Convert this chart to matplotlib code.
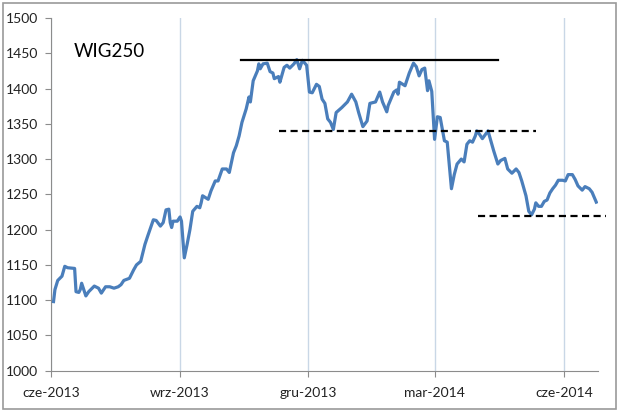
import matplotlib
matplotlib.use("Agg")
import matplotlib.pyplot as plt
from matplotlib.patches import Rectangle
import numpy as np

plt.rcParams['font.family'] = ['Lato', 'DejaVu Sans']

# WIG250 index
dates = [
    "2013-06-03", "2013-06-04", "2013-06-06", "2013-06-09", "2013-06-11", "2013-06-13",
    "2013-06-18", "2013-06-19", "2013-06-21", "2013-06-22", "2013-06-23", "2013-06-26",
    "2013-06-28", "2013-06-30", "2013-07-02", "2013-07-05", "2013-07-07", "2013-07-10",
    "2013-07-13", "2013-07-16", "2013-07-19", "2013-07-21", "2013-07-23", "2013-07-27",
    "2013-07-30", "2013-08-01", "2013-08-04", "2013-08-07", "2013-08-09", "2013-08-13",
    "2013-08-15", "2013-08-18", "2013-08-20", "2013-08-22", "2013-08-24", "2013-08-25",
    "2013-08-26", "2013-08-27", "2013-08-30", "2013-09-01", "2013-09-02", "2013-09-04",
    "2013-09-06", "2013-09-08", "2013-09-10", "2013-09-13", "2013-09-15", "2013-09-16",
    "2013-09-17", "2013-09-21", "2013-09-23", "2013-09-26", "2013-09-28", "2013-10-01",
    "2013-10-04", "2013-10-06", "2013-10-09", "2013-10-11", "2013-10-13", "2013-10-15",
    "2013-10-18", "2013-10-20", "2013-10-21", "2013-10-23", "2013-10-26", "2013-10-27",
    "2013-10-28", "2013-10-30", "2013-11-02", "2013-11-04", "2013-11-06", "2013-11-07",
    "2013-11-10", "2013-11-11", "2013-11-14", "2013-11-16", "2013-11-18", "2013-11-21",
    "2013-11-23", "2013-11-25", "2013-11-27", "2013-11-30", "2013-12-02", "2013-12-04",
    "2013-12-07", "2013-12-09", "2013-12-11", "2013-12-13", "2013-12-15", "2013-12-17",
    "2013-12-19", "2013-12-21", "2013-12-25", "2013-12-29", "2014-01-01", "2014-01-04",
    "2014-01-06", "2014-01-09", "2014-01-12", "2014-01-14", "2014-01-18", "2014-01-21",
    "2014-01-23", "2014-01-26", "2014-01-27", "2014-01-31", "2014-02-02", "2014-02-03",
    "2014-02-04", "2014-02-08", "2014-02-11", "2014-02-14", "2014-02-16", "2014-02-18",
    "2014-02-20", "2014-02-22", "2014-02-24", "2014-02-25", "2014-02-27", "2014-03-01",
    "2014-03-03", "2014-03-05", "2014-03-08", "2014-03-10", "2014-03-13", "2014-03-15",
    "2014-03-17", "2014-03-20", "2014-03-22", "2014-03-24", "2014-03-26", "2014-03-28",
    "2014-03-30", "2014-03-31", "2014-04-02", "2014-04-04", "2014-04-08", "2014-04-10",
    "2014-04-12", "2014-04-15", "2014-04-17", "2014-04-20", "2014-04-22", "2014-04-25",
    "2014-04-28", "2014-04-30", "2014-05-02", "2014-05-05", "2014-05-07", "2014-05-09",
    "2014-05-11", "2014-05-12", "2014-05-14", "2014-05-16", "2014-05-18", "2014-05-20",
    "2014-05-22", "2014-05-24", "2014-05-26", "2014-05-28", "2014-05-31", "2014-06-02",
    "2014-06-04", "2014-06-07", "2014-06-09", "2014-06-11", "2014-06-14", "2014-06-16",
    "2014-06-19", "2014-06-21", "2014-06-24",
]
wig250 = [
    1098, 1115, 1128, 1134, 1148, 1146,
    1145, 1112, 1111, 1115, 1124, 1106,
    1112, 1116, 1120, 1117, 1110, 1119,
    1119, 1117, 1119, 1122, 1128, 1131,
    1143, 1150, 1155, 1179, 1191, 1214,
    1213, 1205, 1210, 1228, 1229, 1210,
    1203, 1212, 1212, 1218, 1212, 1160,
    1179, 1200, 1226, 1233, 1231, 1238,
    1248, 1243, 1255, 1269, 1269, 1286,
    1286, 1281, 1309, 1319, 1333, 1352,
    1371, 1388, 1381, 1411, 1425, 1435,
    1428, 1435, 1436, 1424, 1422, 1414,
    1417, 1409, 1430, 1433, 1429, 1435,
    1441, 1428, 1440, 1433, 1395, 1394,
    1406, 1403, 1385, 1379, 1357, 1352,
    1342, 1366, 1373, 1381, 1392, 1381,
    1366, 1346, 1354, 1379, 1381, 1395,
    1381, 1367, 1376, 1395, 1398, 1392,
    1409, 1404, 1422, 1436, 1431, 1418,
    1427, 1429, 1397, 1411, 1396, 1328,
    1360, 1359, 1326, 1324, 1258, 1278,
    1293, 1300, 1296, 1321, 1326, 1324,
    1333, 1340, 1335, 1329, 1340, 1326,
    1312, 1293, 1298, 1301, 1286, 1280,
    1286, 1281, 1269, 1248, 1226, 1221,
    1229, 1238, 1233, 1233, 1240, 1242,
    1252, 1258, 1263, 1270, 1270, 1269,
    1278, 1278, 1271, 1262, 1256, 1261,
    1258, 1253, 1239,
]

# support / resistance lines: level, start, end, style
levels = [1440, 1340, 1220]
level_start = ["2013-10-14", "2013-11-10", "2014-04-01"]
level_end = ["2014-04-15", "2014-05-12", "2014-07-01"]
level_style = ['-', '--', '--']

tick_dates = ["2013-06-01", "2013-09-01", "2013-12-01", "2014-03-01", "2014-06-01"]
tick_labels = ["cze-2013", "wrz-2013", "gru-2013", "mar-2014", "cze-2014"]

x = np.array(dates, dtype='datetime64[D]')

fig = plt.figure(figsize=(6.2, 4.12), dpi=100)
ax = fig.add_axes([0.0818, 0.1002, 0.8822, 0.8561])

ax.plot(x, wig250, color='#4a7ebb', lw=2.3, solid_joinstyle='round', zorder=3)

for lv, s, e, st in zip(levels, level_start, level_end, level_style):
    ax.plot(np.array([s, e], dtype='datetime64[D]'), [lv, lv], st,
            color='black', lw=1.6, dashes=(3.2, 2.0) if st == '--' else (None, None),
            clip_on=False, zorder=4)

ax.set_xlim(np.datetime64("2013-06-01"), np.datetime64("2014-06-25"))
ax.set_ylim(1000, 1500)
ax.set_yticks(np.arange(1000, 1501, 50))
ax.set_xticks(np.array(tick_dates, dtype='datetime64[D]'))
ax.set_xticklabels(tick_labels)

ax.grid(True, axis='x', color='#c9d7e6', lw=1.0)
ax.set_axisbelow(True)
for sp in ['top', 'right']:
    ax.spines[sp].set_visible(False)
for sp in ['left', 'bottom']:
    ax.spines[sp].set_color('#8c8c8c')
ax.tick_params(axis='both', colors='#8c8c8c', labelcolor='#222222',
               labelsize=10, length=4, width=0.8)
ax.tick_params(axis='y', pad=5)
ax.tick_params(axis='x', pad=8)

ax.text(0.0426, 0.889, "WIG250", transform=ax.transAxes, fontsize=13.5,
        color='black', va='baseline', ha='left')

fig.patches.append(Rectangle((3 / 620, 3 / 412), 613 / 620, 406 / 412,
                             transform=fig.transFigure, fill=False,
                             edgecolor='#9a9a9a', lw=1.2))

fig.savefig('out.png', dpi=100)
